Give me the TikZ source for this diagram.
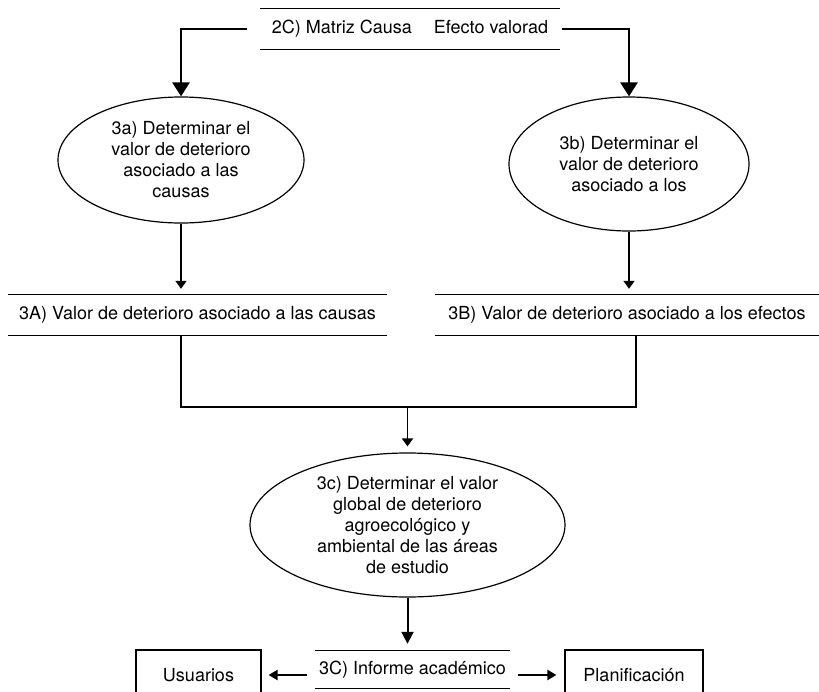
\documentclass[tikz,border=0pt]{standalone}
\usepackage{fontspec}
\setmainfont{TeX Gyre Heros}
\usetikzlibrary{arrows.meta,positioning,shapes.geometric}

\begin{document}
\begin{tikzpicture}[x=1pt, y=-1pt,
  font=\fontsize{18}{21}\selectfont,
  proceso/.style={draw, ellipse, line width=1.2pt, inner sep=0pt, align=center},
  almacen/.style={inner sep=0pt, align=center},
  externo/.style={draw, line width=1.2pt, inner sep=0pt},
  linea/.style={line width=1.3pt},
  flecha/.style={-{Triangle[length=8pt,width=11pt]}, line width=1.8pt},
  flechaG/.style={-{Triangle[length=14pt,width=17pt]}, line width=2.6pt}]
\useasboundingbox (0,0) rectangle (819,691);

% Data stores
\node[almacen, minimum width=300, minimum height=40] (s2C) at (410,29) {2C) Matriz Causa\hspace{22pt}Efecto valorad};
\node[almacen, minimum width=379, minimum height=40] (s3A) at (197.5,315) {3A) Valor de deterioro asociado a las causas};
\node[almacen, minimum width=384, minimum height=40] (s3B) at (627,315) {3B) Valor de deterioro asociado a los efectos};
\node[almacen, minimum width=195, minimum height=37] (s3C) at (412.5,669.5) {3C) Informe acad\'emico};
\foreach \s in {s2C,s3A,s3B,s3C}
  \draw[linea] (\s.north west) -- (\s.north east) (\s.south west) -- (\s.south east);

% Processes
\node[proceso, minimum width=246, minimum height=126] (p3a) at (181,160)
  {3a) Determinar el\\valor de deterioro\\asociado a las\\causas};
\node[proceso, minimum width=240, minimum height=134] (p3b) at (629,164)
  {3b) Determinar el\\valor de deterioro\\asociado a los};
\node[proceso, minimum width=315, minimum height=144] (p3c) at (407.5,525)
  {3c) Determinar el valor\\global de deterioro\\agroecol\'ogico y\\ambiental de las \'areas\\de estudio};

% External entities
\node[externo, minimum width=125, minimum height=50] (usu) at (198.5,675) {Usuarios};
\node[externo, minimum width=138, minimum height=50] (plan) at (634,675) {Planificaci\'on};

% Connectors
\draw[flechaG] ([xshift=-13pt]s2C.west) -| (p3a.north);
\draw[flechaG] ([xshift=2pt]s2C.east) -| (p3b.north);
\draw[flecha, shorten >=6pt] (p3a.south) -- (p3a.south |- s3A.north);
\draw[flecha, shorten >=6pt] (p3b.south) -- (p3b.south |- s3B.north);

\coordinate (uA) at (181,407);
\coordinate (uB) at (636,407);
\coordinate (union) at (407.5,407);
\draw[line width=2pt] (uA |- s3A.south) -- (uA) -- (uB) -- (uB |- s3B.south);
\draw[flecha, shorten >=6pt] (union) -- (p3c.north);

\draw[flecha, line width=2pt, -{Triangle[length=12pt,width=12pt]}, shorten >=7pt] (p3c.south) -- (p3c.south |- s3C.north);
\draw[flecha, line width=2.2pt, -{Triangle[length=9pt,width=10pt]}, shorten <=8pt, shorten >=7pt] (s3C.west |- usu.east) -- (usu.east);
\draw[flecha, line width=2.2pt, -{Triangle[length=9pt,width=10pt]}, shorten <=8pt, shorten >=8pt] (s3C.east |- plan.west) -- (plan.west);
\end{tikzpicture}
\end{document}
